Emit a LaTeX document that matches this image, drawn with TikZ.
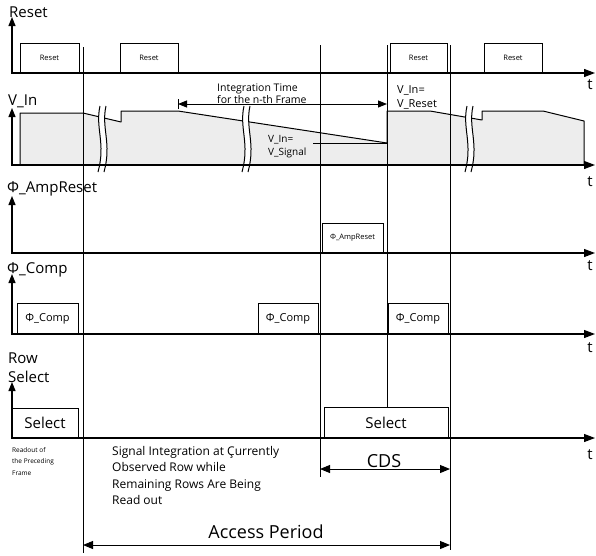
\documentclass[tikz,border=0pt]{standalone}
\usepackage{fontspec}
\setmainfont{Open Sans}
\usetikzlibrary{arrows.meta}
\newcommand{\fs}[2]{\fontsize{#1}{#2}\selectfont\lineskiplimit=-50pt\lineskip=0pt}
\begin{document}
\begin{tikzpicture}[x=1pt,y=-1pt,
  axis/.style={line width=1.2pt,{Triangle[length=9pt,width=7pt]}-{Triangle[length=11pt,width=8pt]}},
  pbox/.style={draw,line width=1pt,inner sep=0pt},
  wave/.style={line width=1pt,line join=round},
  guide/.style={line width=0.7pt},
  dim/.style={line width=0.9pt,{Triangle[length=10pt,width=8pt]}-{Triangle[length=10pt,width=8pt]}},
  lbl/.style={anchor=west,inner sep=0pt,font=\fs{15}{17}},
  tl/.style={inner sep=0pt,font=\fs{15}{17}},
  txt/.style={inner sep=0pt,align=left,anchor=north west}]
\useasboundingbox (0,0) rectangle (596,555);

% ---------- V_In filled waveform ----------
\fill[black!7] (20,165) -- (20,113) -- (83,113) -- (121,122) -- (121,111) -- (178,111)
  -- (387,143) -- (387,111) -- (430,111) -- (482,120) -- (482,111) -- (543,111)
  -- (584,121) -- (584,165) -- cycle;
\draw[wave] (20,165) -- (20,113) -- (83,113) -- (121,122) -- (121,111) -- (178,111)
  -- (387,143) -- (387,111) -- (430,111) -- (482,120) -- (482,111) -- (543,111)
  -- (584,121) -- (584,165);

% ---------- break marks ----------
\foreach \bx in {97,241,464}{
  \fill[white] ({\bx+3},106) .. controls ({\bx-2},128) and ({\bx+9},143) .. ({\bx+1},172)
     -- ({\bx+7},172) .. controls ({\bx+15},143) and ({\bx+4},128) .. ({\bx+9},106) -- cycle;
  \draw[line width=1pt] ({\bx+3},106) .. controls ({\bx-2},128) and ({\bx+9},143) .. ({\bx+1},172);
  \draw[line width=1pt] ({\bx+9},106) .. controls ({\bx+4},128) and ({\bx+15},143) .. ({\bx+7},172);
}

% ---------- axes ----------
\coordinate (rT) at (12,17);  \coordinate (r0) at (12,73);  \coordinate (rE) at (595,73);
\coordinate (vT) at (12,108); \coordinate (v0) at (12,165); \coordinate (vE) at (595,165);
\coordinate (aT) at (12,196); \coordinate (a0) at (12,253); \coordinate (aE) at (595,253);
\coordinate (cT) at (12,274); \coordinate (c0) at (12,334); \coordinate (cE) at (595,334);
\coordinate (sT) at (12,382); \coordinate (s0) at (12,438); \coordinate (sE) at (595,438);
\draw[axis] (rT) -- (r0) -- (rE);
\draw[axis] (vT) -- (v0) -- (vE);
\draw[axis] (aT) -- (a0) -- (aE);
\draw[axis] (cT) -- (c0) -- (cE);
\draw[axis] (sT) -- (s0) -- (sE);

% axis labels
\node[lbl] (lReset) at (9,12) {Reset};
\node[lbl] (lVin) at (8,101) {V\_In};
\node[lbl] (lAmp) at (7,189) {Φ\_AmpReset};
\node[lbl] (lComp) at (7,270) {Φ\_Comp};
\node[lbl] (lRow) at (8,358) {Row};
\node[lbl] (lSel) at (8,377) {Select};
\node[tl] (t1) at (590,85) {t};
\node[tl] (t2) at (590,182) {t};
\node[tl] (t3) at (590,266) {t};
\node[tl] (t4) at (590,348) {t};
\node[tl] (t5) at (590,455) {t};

% ---------- pulses ----------
\node[pbox,minimum width=59pt,minimum height=30pt,font=\fs{7.5}{9}] (rs1) at (49.5,58) {Reset};
\node[pbox,minimum width=58pt,minimum height=30pt,font=\fs{7.5}{9}] (rs2) at (149,58) {Reset};
\node[pbox,minimum width=57pt,minimum height=30pt,font=\fs{7.5}{9}] (rs3) at (418.5,58) {Reset};
\node[pbox,minimum width=58pt,minimum height=30pt,font=\fs{7.5}{9}] (rs4) at (513,58) {Reset};

\node[pbox,minimum width=61pt,minimum height=30pt,font=\fs{7.5}{9}] (amp) at (352.5,238) {Φ\_AmpReset};

\node[pbox,minimum width=61pt,minimum height=31pt,font=\fs{11}{13}] (cp1) at (47.5,318.5) {Φ\_Comp};
\node[pbox,minimum width=60pt,minimum height=31pt,font=\fs{11}{13}] (cp2) at (288,318.5) {Φ\_Comp};
\node[pbox,minimum width=60pt,minimum height=31pt,font=\fs{11}{13}] (cp3) at (418,318.5) {Φ\_Comp};

\node[pbox,minimum width=66pt,minimum height=30pt,font=\fs{15}{17}] (sel1) at (45,423) {Select};
\node[pbox,minimum width=124pt,minimum height=31pt,font=\fs{15}{17}] (sel2) at (386,422.5) {Select};

% ---------- vertical guides ----------
\coordinate (g1a) at (83,47);  \coordinate (g1b) at (83,553);
\coordinate (g2a) at (320,45); \coordinate (g2b) at (320,477);
\coordinate (g3a) at (387,45); \coordinate (g3b) at (387,407);
\coordinate (g4a) at (450,45); \coordinate (g4b) at (450,550);
\draw[guide] (g1a) -- (g1b);
\draw[guide] (g2a) -- (g2b);
\draw[guide] (g3a) -- (g3b);
\draw[guide] (g4a) -- (g4b);

% ---------- V_In annotations ----------
\coordinate (itL) at (178,104); \coordinate (itR) at (387,104);
\draw[line width=0.9pt,{Triangle[length=9pt,width=7pt]}-{Triangle[length=9pt,width=7pt]}] (itL) -- (itR);
\draw[line width=0.9pt] ([yshift=-5pt]itL) -- ([yshift=5pt]itL);
\node[txt,font=\fs{10.5}{12}] (itT) at (217,84) {Integration Time\\for the n-th Frame};

\node[txt,font=\fs{10}{13}] (vsig) at (268,135) {V\_In=\\V\_Signal};
\coordinate (vsA) at (313,143); \coordinate (vsB) at (387,143);
\draw[line width=0.9pt] (vsA) -- (vsB);

\node[txt,font=\fs{11}{14}] (vres) at (397,85) {V\_In=\\V\_Reset};

% ---------- bottom annotations ----------
\node[txt,font=\fs{6.5}{11.5}] (ro) at (12,447) {Readout of\\the Preceding\\Frame};
\node[txt,font=\fs{12}{16.4}] (sig) at (112,446) {Signal Integration at Çurrently\\Observed Row while\\Remaining Rows Are Being\\Read out};

\coordinate (cdsL) at (320,469); \coordinate (cdsR) at (450,469);
\draw[dim] (cdsL) -- (cdsR);
\node[inner sep=0pt,font=\fs{18}{20}] (cds) at (384,461) {CDS};

\coordinate (apL) at (83,545); \coordinate (apR) at (450,545);
\draw[dim] (apL) -- (apR);
\node[inner sep=0pt,font=\fs{18}{20}] (ap) at (266,532) {Access Period};
\end{tikzpicture}
\end{document}
